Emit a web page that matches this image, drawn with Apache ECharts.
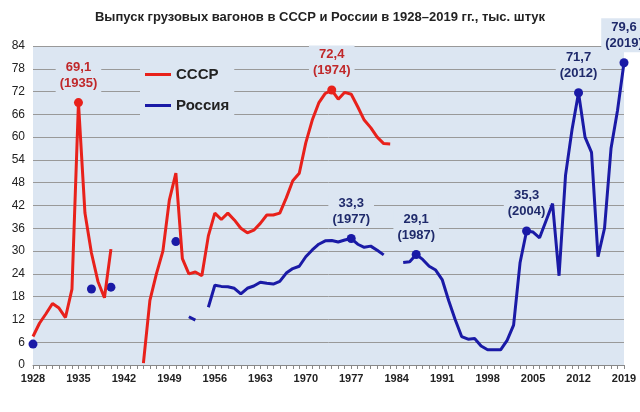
<!DOCTYPE html><html><head><meta charset="utf-8"><script src="https://cdn.jsdelivr.net/npm/echarts@6/dist/echarts.min.js"></script></head><body style="margin:0;background:#fff"><div id="c" style="width:640px;height:412px"></div><script>
const years=[];for(let y=1928;y<=2019;y++)years.push(String(y));
const ussrRaw={1928:7.5,1929:11,1930:13.5,1931:16.2,1932:15,1933:12.5,1934:20,1935:69.1,1936:40,1937:29.5,1938:22,1939:17.7,1940:30.5,1945:0.5,1946:17,1947:24,1948:30,1949:43.5,1950:50.5,1951:28,1952:24,1953:24.5,1954:23.5,1955:34,1956:40,1957:38.3,1958:40,1959:38.2,1960:36,1961:34.8,1962:35.5,1963:37.3,1964:39.5,1965:39.5,1966:40,1967:44,1968:48.5,1969:50.5,1970:58.5,1971:64.5,1972:69,1973:71.5,1974:72.4,1975:70,1976:71.8,1977:71.3,1978:68,1979:64.5,1980:62.5,1981:60,1982:58.3,1983:58.2};
const russiaRaw={1952:12.7,1953:11.8,1955:15.2,1956:21,1957:20.7,1958:20.6,1959:20.2,1960:18.7,1961:20.2,1962:20.8,1963:21.8,1964:21.5,1965:21.3,1966:22,1967:24.2,1968:25.4,1969:26,1970:28.5,1971:30.3,1972:31.8,1973:32.7,1974:32.8,1975:32.4,1976:32.9,1977:33.3,1978:31.8,1979:31,1980:31.3,1981:30.2,1982:29,1985:27,1986:27.2,1987:29.1,1988:27.8,1989:26,1990:25,1991:22.5,1992:17,1993:12,1994:7.5,1995:6.8,1996:7,1997:5,1998:4,1999:4,2000:4,2001:6.5,2002:10.5,2003:27,2004:35.3,2005:35,2006:33.5,2007:38,2008:42.5,2009:23.5,2010:50,2011:62,2012:71.7,2013:60,2014:56,2015:28.5,2016:36,2017:57,2018:67,2019:79.6};
const russiaDots=[['1928',5.5],['1937',20],['1940',20.5],['1950',32.5]];
const ussrPeaks=[['1935',69.1],['1974',72.4]];
const russiaPeaks=[['1977',33.3],['1987',29.1],['2004',35.3],['2012',71.7],['2019',79.6]];
const ussr=years.map(y=>ussrRaw[y]??null), russia=years.map(y=>russiaRaw[y]??null);
const fmt=p=>'{a|'+String(p.value[1]).replace('.',',')+'}\n{a|('+p.value[0]+')}';
const lab=c=>({show:true,position:'top',distance:6,formatter:fmt,backgroundColor:'#dce6f2',padding:[1,4],rich:{a:{color:c,fontWeight:'bold',fontSize:13,lineHeight:16,fontFamily:'Arial'}}});
const ch=echarts.init(document.getElementById('c'));
ch.setOption({animation:false,
title:{text:'Выпуск грузовых вагонов в СССР и России в 1928–2019 гг., тыс. штук',left:'center',top:6,textStyle:{fontSize:13,fontWeight:'bold',color:'#222',fontFamily:'Arial'}},
grid:{left:33,right:16,top:46,bottom:47,show:true,backgroundColor:'#dce6f2',borderWidth:0},
legend:{orient:'vertical',left:140,top:62,itemGap:16,itemWidth:26,itemHeight:3,icon:'rect',backgroundColor:'#dce6f2',
 textStyle:{fontSize:15,fontWeight:'bold',color:'#222',fontFamily:'Arial'},data:['СССР','Россия']},
xAxis:{type:'category',data:years,boundaryGap:false,axisLine:{lineStyle:{color:'#888'}},axisTick:{show:true,interval:0,length:4,lineStyle:{color:'#888'}},
 axisLabel:{interval:6,color:'#222',fontWeight:'bold',fontSize:11,fontFamily:'Arial',showMaxLabel:true}},
yAxis:{type:'value',min:0,max:84,interval:6,axisLabel:{color:'#222',fontSize:12,fontFamily:'Arial'},splitLine:{lineStyle:{color:'#999'}}},
series:[
{name:'СССР',type:'line',data:ussr,color:'#e8211b',lineStyle:{width:3},showSymbol:false,connectNulls:false},
{name:'Россия',type:'line',data:russia,color:'#1a1aa6',lineStyle:{width:3},showSymbol:false,connectNulls:false},
{type:'scatter',data:russiaDots,color:'#1a1aa6',symbolSize:9,itemStyle:{opacity:1}},
{type:'scatter',data:ussrPeaks,color:'#e8211b',symbolSize:9,itemStyle:{opacity:1},label:lab('#c0282a')},
{type:'scatter',data:russiaPeaks,color:'#1a1aa6',symbolSize:9,itemStyle:{opacity:1},label:lab('#1f2a6b')}
]});
</script></body></html>
